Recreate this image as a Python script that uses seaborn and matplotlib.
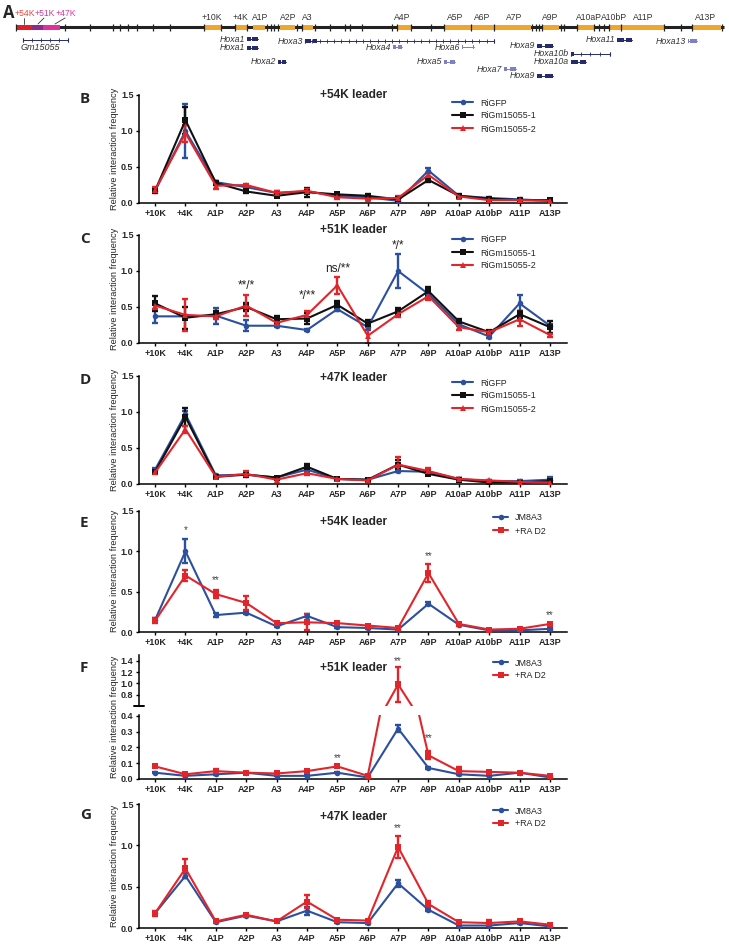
import matplotlib
matplotlib.use("Agg")
import matplotlib.pyplot as plt
import numpy as np
import seaborn as sns

sns.set_style("ticks")
plt.rcParams["font.family"] = ["Liberation Sans", "DejaVu Sans"]

W, H = 729, 944
BLUE = "#2c4f9e"
RED = "#e2252b"
BLACK = "#111111"

sites = ["+10K", "+4K", "A1P", "A2P", "A3", "A4P", "A5P", "A6P", "A7P",
         "A9P", "A10aP", "A10bP", "A11P", "A13P"]

# ---- panel A: genomic track (x in track units, y in rows) ----
leader_names = ["+54K", "+51K", "+47K"]
leader_start = [16, 32, 43]
leader_end = [32, 43, 60]
leader_colors = ["#e01f26", "#8e2a8c", "#e0309a"]
leader_text_colors = ["#e8463c", "#c23c9c", "#e0359a"]
leader_label_x = [25, 45, 66]
leader_anchor_x = [24, 38, 55]

exon_labels = ["+10K", "+4K", "A1P", "A2P", "A3", "A4P", "A5P", "A6P", "A7P",
               "A9P", "A10aP", "A10bP", "A11P", "A13P"]
exon_start = [204, 235, 253, 280, 302, 397, 444, 471, 494, 542, 577, 609, 622, 692]
exon_end = [221, 247, 265, 295, 313, 411, 471, 494, 531, 559, 594, 621, 664, 721]
exon_label_x = [212, 240, 260, 288, 307, 402, 455, 482, 514, 550, 589, 614, 643, 706]
track_ticks = [16, 65, 90, 113, 120, 128, 137, 153, 170, 204, 221, 235, 247, 267,
               271, 274, 278, 297, 302, 315, 330, 345, 350, 362, 392, 397, 411,
               431, 444, 471, 494, 532, 536, 539, 542, 561, 564, 577, 594, 599,
               604, 609, 621, 664, 681, 692, 722]

gene_names = ["Gm15055", "Hoxa1", "Hoxa1", "Hoxa2", "Hoxa3", "Hoxa4", "Hoxa6",
              "Hoxa5", "Hoxa9", "Hoxa10b", "Hoxa10a", "Hoxa7", "Hoxa9",
              "Hoxa11", "Hoxa13"]
gene_start = [23, 247, 247, 278, 305, 393, 462, 444, 537, 571, 571, 504, 537, 617, 688]
gene_end = [68, 258, 258, 286, 494, 402, 474, 455, 553, 610, 586, 516, 553, 632, 697]
gene_row = [40, 39, 48, 62, 41, 47, 47, 62, 46, 54, 62, 69, 76, 40, 41]
gene_dark = [1, 1, 1, 1, 1, 0, 0, 0, 1, 1, 1, 0, 1, 1, 0]
gene_exons = [
    [],
    [(247, 251), (252, 258)],
    [(247, 251), (252, 258)],
    [(278, 281), (282, 286)],
    [(305, 311), (313, 317)],
    [(393, 396), (398, 402)],
    [(462, 463), (473, 474)],
    [(444, 447), (450, 455)],
    [(537, 542), (545, 553)],
    [(571, 574)],
    [(571, 578), (580, 586)],
    [(504, 507), (510, 516)],
    [(537, 542), (545, 553)],
    [(617, 624), (626, 632)],
    [(688, 689), (690, 697)],
]

# ---- panels B-D: knockdown 4C ----
b_gfp = [0.17, 1.00, 0.29, 0.22, 0.14, 0.16, 0.10, 0.08, 0.03, 0.45, 0.10, 0.07, 0.05, 0.03]
b_gfp_err = [0.02, 0.37, 0.02, 0.02, 0.02, 0.02, 0.01, 0.01, 0.01, 0.03, 0.01, 0.01, 0.01, 0.01]
b_ko1 = [0.17, 1.15, 0.28, 0.16, 0.10, 0.15, 0.12, 0.10, 0.05, 0.32, 0.10, 0.06, 0.04, 0.04]
b_ko1_err = [0.02, 0.19, 0.03, 0.02, 0.01, 0.06, 0.02, 0.02, 0.01, 0.03, 0.02, 0.01, 0.01, 0.01]
b_ko2 = [0.18, 0.97, 0.24, 0.25, 0.14, 0.17, 0.08, 0.06, 0.07, 0.39, 0.09, 0.04, 0.04, 0.03]
b_ko2_err = [0.04, 0.12, 0.04, 0.02, 0.02, 0.03, 0.02, 0.02, 0.03, 0.03, 0.02, 0.01, 0.03, 0.01]

c_gfp = [0.37, 0.37, 0.38, 0.24, 0.24, 0.18, 0.47, 0.22, 1.00, 0.68, 0.26, 0.09, 0.55, 0.24]
c_gfp_err = [0.09, 0.02, 0.11, 0.08, 0.02, 0.02, 0.02, 0.04, 0.23, 0.03, 0.03, 0.02, 0.11, 0.03]
c_ko1 = [0.55, 0.35, 0.40, 0.50, 0.33, 0.34, 0.53, 0.27, 0.44, 0.72, 0.30, 0.15, 0.40, 0.22]
c_ko1_err = [0.10, 0.15, 0.05, 0.05, 0.05, 0.07, 0.05, 0.05, 0.05, 0.06, 0.03, 0.02, 0.05, 0.08]
c_ko2 = [0.52, 0.39, 0.37, 0.52, 0.28, 0.39, 0.80, 0.10, 0.40, 0.65, 0.22, 0.15, 0.33, 0.11]
c_ko2_err = [0.05, 0.22, 0.04, 0.14, 0.03, 0.06, 0.12, 0.12, 0.04, 0.05, 0.04, 0.03, 0.10, 0.02]

d_gfp = [0.20, 0.97, 0.12, 0.13, 0.09, 0.20, 0.07, 0.06, 0.18, 0.17, 0.07, 0.04, 0.04, 0.06]
d_gfp_err = [0.02, 0.04, 0.01, 0.01, 0.01, 0.02, 0.01, 0.01, 0.02, 0.02, 0.01, 0.01, 0.01, 0.04]
d_ko1 = [0.17, 0.93, 0.10, 0.13, 0.09, 0.24, 0.07, 0.06, 0.27, 0.14, 0.06, 0.02, 0.02, 0.04]
d_ko1_err = [0.02, 0.12, 0.01, 0.01, 0.01, 0.04, 0.01, 0.01, 0.06, 0.02, 0.02, 0.01, 0.01, 0.02]
d_ko2 = [0.16, 0.76, 0.10, 0.14, 0.06, 0.15, 0.07, 0.05, 0.27, 0.18, 0.07, 0.05, 0.03, 0.02]
d_ko2_err = [0.02, 0.05, 0.01, 0.04, 0.01, 0.02, 0.01, 0.01, 0.11, 0.04, 0.01, 0.01, 0.01, 0.01]

# ---- panels E-G: JM8A3 vs +RA D2 ----
e_es = [0.15, 1.00, 0.21, 0.24, 0.07, 0.20, 0.06, 0.05, 0.03, 0.35, 0.09, 0.02, 0.02, 0.04]
e_es_err = [0.02, 0.15, 0.02, 0.02, 0.01, 0.02, 0.01, 0.01, 0.01, 0.02, 0.01, 0.01, 0.01, 0.01]
e_ra = [0.14, 0.70, 0.47, 0.36, 0.11, 0.12, 0.11, 0.08, 0.05, 0.73, 0.10, 0.03, 0.04, 0.10]
e_ra_err = [0.03, 0.07, 0.05, 0.09, 0.01, 0.10, 0.01, 0.01, 0.01, 0.11, 0.01, 0.01, 0.01, 0.01]

f_es = [0.04, 0.02, 0.03, 0.04, 0.02, 0.02, 0.04, 0.01, 0.32, 0.07, 0.03, 0.02, 0.04, 0.01]
f_es_err = [0.005, 0.003, 0.005, 0.003, 0.003, 0.003, 0.004, 0.002, 0.02, 0.005, 0.004, 0.003, 0.003, 0.002]
f_ra = [0.08, 0.03, 0.05, 0.04, 0.035, 0.05, 0.08, 0.02, 0.98, 0.15, 0.05, 0.045, 0.04, 0.02]
f_ra_err = [0.006, 0.004, 0.012, 0.004, 0.004, 0.005, 0.006, 0.003, 0.31, 0.025, 0.025, 0.006, 0.005, 0.003]

g_es = [0.18, 0.63, 0.07, 0.15, 0.08, 0.21, 0.07, 0.06, 0.54, 0.22, 0.03, 0.03, 0.06, 0.02]
g_es_err = [0.01, 0.03, 0.01, 0.01, 0.01, 0.05, 0.01, 0.01, 0.04, 0.01, 0.01, 0.01, 0.01, 0.01]
g_ra = [0.18, 0.72, 0.08, 0.16, 0.08, 0.32, 0.10, 0.09, 0.98, 0.29, 0.07, 0.06, 0.08, 0.04]
g_ra_err = [0.03, 0.11, 0.01, 0.01, 0.01, 0.08, 0.01, 0.01, 0.13, 0.04, 0.01, 0.04, 0.01, 0.01]

# significance marks: (site index, y value, text)
c_sig = [(3, 0.79, "**/*"), (5, 0.65, "*/**"), (6, 1.03, "ns/**"), (8, 1.35, "*/*")]
e_sig = [(1, 1.26, "*"), (2, 0.64, "**"), (9, 0.94, "**"), (13, 0.21, "**")]
f_sig_low = [(6, 0.13, "**"), (9, 0.26, "**")]
f_sig_up = [(8, 1.40, "**")]
g_sig = [(8, 1.21, "**")]


def fig_axes(top, bottom, left=139, right=567):
    return fig.add_axes([left / W, 1 - bottom / H, (right - left) / W, (bottom - top) / H])


def style_axes(ax, ylim, yticks, xlabels=True):
    ax.set_xlim(-0.53, 13.56)
    ax.set_ylim(*ylim)
    ax.set_yticks(yticks)
    ax.set_yticklabels([f"{t:.1f}" for t in yticks], fontsize=6.5, fontweight="bold")
    ax.set_xticks(range(len(sites)))
    if xlabels:
        ax.set_xticklabels(sites, fontsize=6.5, fontweight="bold")
    ax.tick_params(axis="both", length=2.5, width=1.0, pad=1.5, color="black")
    sns.despine(ax=ax)
    for s in ("left", "bottom"):
        ax.spines[s].set_linewidth(1.1)
        ax.spines[s].set_color("black")
    ax.set_xlabel("")
    ax.set_ylabel("")


def draw_series(ax, series):
    x = np.arange(len(sites))
    for name, vals, err, color, marker in series:
        ax.errorbar(x, vals, yerr=err, fmt="none", ecolor=color, elinewidth=1.7,
                    capsize=2.4, capthick=1.7, zorder=2)
        sns.lineplot(x=x, y=vals, color=color, marker=marker, markersize=4.0,
                     markeredgewidth=0, linewidth=1.5, ax=ax, label=name, zorder=3)
    ax.get_legend().remove()


def add_legend(ax, x_px, y_px, hl=2.4):
    h, l = ax.get_legend_handles_labels()
    ax.legend(h, l, loc="upper left", bbox_to_anchor=(x_px / W, 1 - (y_px - 4.5) / H),
              bbox_transform=fig.transFigure, frameon=False, fontsize=6.4,
              handlelength=hl, handletextpad=0.8, labelspacing=0.45,
              borderpad=0, borderaxespad=0)


def ftext(x_px, y_px, s, **kw):
    fig.text(x_px / W, 1 - y_px / H, s, **kw)


def panel_letter(x_px, y_px, s):
    ftext(x_px, y_px, s, fontsize=11, fontweight="bold", family="Open Sans",
          ha="left", va="center")


def ylabel(y_mid):
    ftext(114, y_mid, "Relative interaction frequency", rotation=90, fontsize=6.7,
          ha="center", va="center")


fig = plt.figure(figsize=(W / 100, H / 100), dpi=100)

# ---------------- A ----------------
axA = fig.add_axes([0, 1 - 82 / H, 1, 82 / H])
axA.set_xlim(0, W)
axA.set_ylim(82, 0)
axA.axis("off")
axA.hlines(27, 16, 724, color="#222222", lw=2.2, zorder=1)
axA.vlines(track_ticks, 23.5, 30.5, color="#222222", lw=0.9, zorder=3)
axA.broken_barh([(s, e - s) for s, e in zip(exon_start, exon_end)], (24.5, 5),
                facecolor="#f0a52c", edgecolor="none", zorder=2)
for s, e, c in zip(leader_start, leader_end, leader_colors):
    axA.broken_barh([(s, e - s)], (24.5, 5), facecolor=c, edgecolor="none", zorder=2)
for name, lx, ax_, c in zip(leader_names, leader_label_x, leader_anchor_x, leader_text_colors):
    axA.text(lx, 13, name, color=c, fontsize=6.2, ha="center", va="center")
    axA.plot([lx - 1, ax_], [18, 24], color="#333333", lw=0.6)
for name, lx in zip(exon_labels, exon_label_x):
    axA.text(lx, 17, name, color="#333333", fontsize=6.2, ha="center", va="center")
for name, s, e, r, dark, exons in zip(gene_names, gene_start, gene_end, gene_row,
                                       gene_dark, gene_exons):
    col = "#262b6b" if dark else "#7d80c4"
    axA.plot([s, e], [r, r], color=col, lw=0.7)
    if e - s > 30:
        axA.plot(np.linspace(s, e, int((e - s) / 7)), [r] * int((e - s) / 7),
                 ls="none", marker="|", ms=2.2, mew=0.6, color=col)
        axA.vlines([s, e], r - 2, r + 2, color=col, lw=0.8)
    for a, b in exons:
        axA.broken_barh([(a, b - a)], (r - 2.2, 4.4), facecolor=col, edgecolor="none")
    if name == "Gm15055":
        axA.text(s - 2, r + 8, name, fontsize=6.5, style="italic", color="#333333",
                 ha="left", va="center")
    else:
        axA.text(s - 2, r, name, fontsize=6.3, style="italic", color="#333333",
                 ha="right", va="center")
ftext(3, 13, "A", fontsize=12, fontweight="bold", family="Open Sans", ha="left", va="center")

# ---------------- B, C, D ----------------
ko_panels = [
    ("B", 95, 203, "+54K leader", 95, b_gfp, b_gfp_err, b_ko1, b_ko1_err, b_ko2, b_ko2_err, 103, []),
    ("C", 235, 343, "+51K leader", 230, c_gfp, c_gfp_err, c_ko1, c_ko1_err, c_ko2, c_ko2_err, 240, c_sig),
    ("D", 376, 484, "+47K leader", 378, d_gfp, d_gfp_err, d_ko1, d_ko1_err, d_ko2, d_ko2_err, 383, []),
]
for letter, top, bot, title, ty, g, ge, k1, k1e, k2, k2e, ly, sig in ko_panels:
    ax = fig_axes(top, bot)
    draw_series(ax, [("RiGFP", g, ge, BLUE, "o"),
                     ("RiGm15055-1", k1, k1e, BLACK, "s"),
                     ("RiGm15055-2", k2, k2e, RED, "^")])
    style_axes(ax, (0, 1.5), [0, 0.5, 1.0, 1.5])
    add_legend(ax, 452, ly)
    ftext(353, ty, title, fontsize=8.6, fontweight="bold", ha="center", va="center")
    for i, yv, s in sig:
        ax.text(i, yv, s, fontsize=8.5, ha="center", va="center", color="#222222")
    panel_letter(80, top + 4, letter)
    ylabel((top + bot) / 2)

# ---------------- E ----------------
axE = fig_axes(511, 632)
draw_series(axE, [("JM8A3", e_es, e_es_err, BLUE, "o"), ("+RA D2", e_ra, e_ra_err, RED, "s")])
style_axes(axE, (0, 1.5), [0, 0.5, 1.0, 1.5])
add_legend(axE, 493, 518, hl=1.7)
ftext(353, 522, "+54K leader", fontsize=8.6, fontweight="bold", ha="center", va="center")
for i, yv, s in e_sig:
    axE.text(i, yv, s, fontsize=7, ha="center", va="center", color="#444444")
panel_letter(80, 523, "E")
ylabel(571)

# ---------------- F (broken axis) ----------------
axFu = fig_axes(655, 706)
axFl = fig_axes(715, 779)
for ax in (axFu, axFl):
    draw_series(ax, [("JM8A3", f_es, f_es_err, BLUE, "o"), ("+RA D2", f_ra, f_ra_err, RED, "s")])
style_axes(axFu, (0.6, 1.5), [0.8, 1.0, 1.2, 1.4], xlabels=False)
axFu.spines["bottom"].set_visible(False)
axFu.tick_params(axis="x", bottom=False, labelbottom=False)
style_axes(axFl, (0, 0.406), [0, 0.1, 0.2, 0.3, 0.4])
axFu.plot([-0.012, 0.012], [0, 0], transform=axFu.transAxes, color="black",
          lw=1.4, clip_on=False)
add_legend(axFu, 493, 663, hl=1.7)
ftext(353, 668, "+51K leader", fontsize=8.6, fontweight="bold", ha="center", va="center")
for i, yv, s in f_sig_up:
    axFu.text(i, yv, s, fontsize=7, ha="center", va="center", color="#444444")
for i, yv, s in f_sig_low:
    axFl.text(i, yv, s, fontsize=7, ha="center", va="center", color="#444444")
panel_letter(80, 668, "F")
ylabel(717)

# ---------------- G ----------------
axG = fig_axes(804, 928)
draw_series(axG, [("JM8A3", g_es, g_es_err, BLUE, "o"), ("+RA D2", g_ra, g_ra_err, RED, "s")])
style_axes(axG, (0, 1.5), [0, 0.5, 1.0, 1.5])
add_legend(axG, 493, 811, hl=1.7)
ftext(353, 817, "+47K leader", fontsize=8.6, fontweight="bold", ha="center", va="center")
for i, yv, s in g_sig:
    axG.text(i, yv, s, fontsize=7, ha="center", va="center", color="#444444")
panel_letter(80, 815, "G")
ylabel(866)

fig.savefig("out.png", dpi=100)
